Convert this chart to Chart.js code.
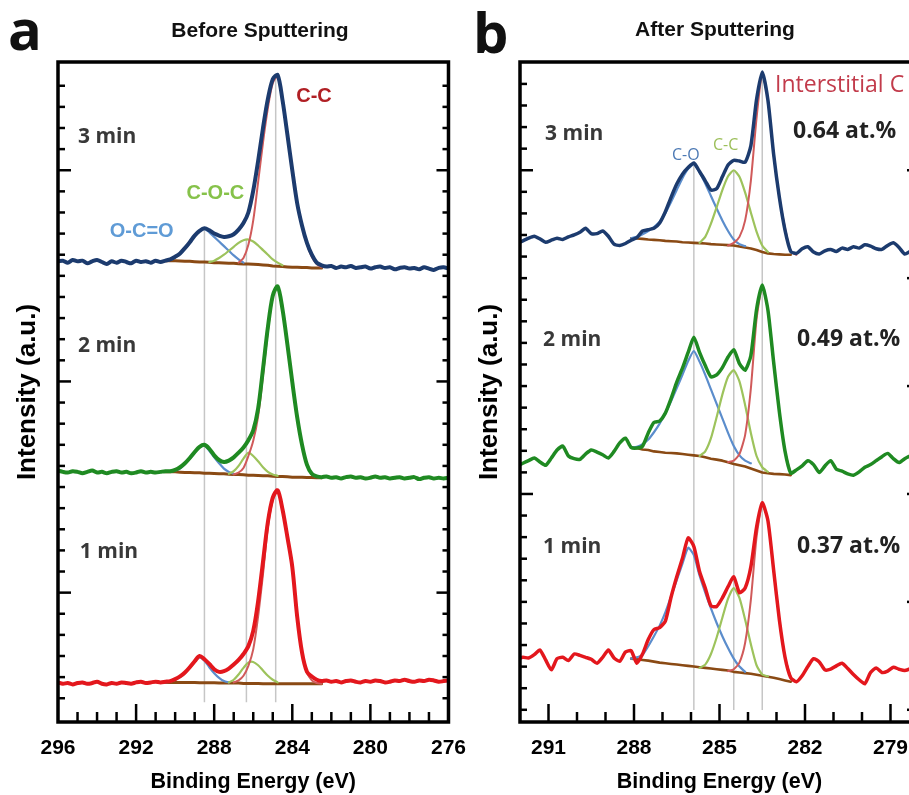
<!DOCTYPE html>
<html>
<head>
<meta charset="utf-8">
<script src="https://cdn.jsdelivr.net/npm/chart.js@4"></script>
<style>
  html, body { margin: 0; padding: 0; background: #fff; overflow: hidden; }
  #wrap { position: relative; width: 909px; height: 795px; overflow: hidden; }
  canvas { position: absolute; top: 0; }
  #before { left: 0; }
  #after { left: 462px; }
</style>
</head>
<body>
<div id="wrap">
  <canvas id="before" width="480" height="795"></canvas>
  <canvas id="after" width="480" height="795"></canvas>
</div>
<script>
const sampleGrid = (from, to, step) => {
  const n = Math.round((from - to) / step);
  return Array.from({ length: n + 1 }, (_, i) => +(from - i * step).toFixed(2));
};
const gap = n => Array(n).fill(null);

// ---- (a) before sputtering: C 1s, 296 -> 276 eV every 0.25 eV ----
const energyA = sampleGrid(296, 276, 0.25);
const before3min = [
  69.8, 69.9, 69.6, 70.0, 69.8, 69.9, 69.5, 69.8, 70.0, 69.7,
  69.4, 69.8, 69.6, 69.9, 69.7, 69.5, 69.9, 69.7, 69.8, 69.6,
  69.9, 69.7, 69.9, 70.1, 70.5, 71.0, 71.8, 72.7, 73.7, 74.4,
  74.8, 74.5, 74.0, 73.7, 73.5, 73.6, 73.9, 74.6, 75.6, 77.2,
  80.5, 85.0, 90.0, 94.4, 97.4, 98.0, 94.2, 89.0, 83.6, 78.6,
  75.2, 72.6, 70.8, 69.6, 69.2, 69.0, 69.1, 68.8, 69.0, 68.9,
  69.1, 68.8, 68.9, 69.0, 68.7, 68.9, 69.0, 68.8, 68.9, 68.6,
  68.8, 68.9, 68.7, 68.8, 68.6, 68.9, 68.7, 68.5, 68.8, 68.9, 68.7
];
const before2min = [
  38.1, 37.9, 37.8, 38.0, 37.9, 37.7, 37.9, 38.1, 37.8, 37.9,
  37.7, 37.9, 38.0, 37.8, 37.9, 37.7, 37.8, 38.0, 37.8, 37.9,
  37.8, 37.9, 38.0, 38.0, 38.2, 38.6, 39.2, 40.0, 40.9, 41.7,
  42.0, 41.4, 40.4, 39.7, 39.4, 39.6, 40.1, 40.8, 41.6, 42.7,
  44.2, 47.5, 53.5, 59.8, 64.6, 66.0, 62.5, 57.2, 51.5, 46.2,
  42.0, 39.0, 37.6, 37.2, 37.1, 37.2, 37.0, 37.1, 36.9, 37.1,
  37.2, 37.0, 37.1, 36.9, 37.0, 37.2, 37.0, 37.1, 36.9, 37.0,
  37.1, 36.9, 37.0, 37.1, 36.8, 37.0, 37.1, 36.9, 37.0, 36.9, 37.0
];
const before1min = [
  6.0, 5.8, 5.9, 5.7, 5.9, 6.0, 5.8, 5.9, 6.1, 5.8,
  5.7, 5.9, 5.8, 6.0, 5.9, 5.8, 6.0, 6.1, 5.9, 6.0,
  6.1, 6.0, 6.1, 6.2, 6.5, 6.9, 7.5, 8.3, 9.2, 10.0,
  9.5, 8.8, 8.0, 7.6, 7.7, 8.1, 8.7, 9.4, 10.3, 11.5,
  13.8, 18.3, 24.3, 30.3, 34.0, 35.1, 32.2, 28.0, 23.5, 16.0,
  10.5, 7.6, 6.9, 6.4, 6.2, 6.3, 6.1, 6.2, 6.0, 6.2,
  6.3, 6.1, 6.0, 6.2, 6.1, 6.3, 6.2, 6.0, 6.1, 6.3,
  6.2, 6.4, 6.2, 6.1, 6.3, 6.2, 6.4, 6.3, 6.1, 6.2, 6.3
];

// peak fits, 290.5 -> 282.5 eV
const fitEnergyA = sampleGrid(290.5, 282.5, 0.25);
const fitA3 = {
  bg:  [69.9, 69.9, 69.9, 69.85, 69.8, 69.8, 69.75, 69.7, 69.7, 69.65, 69.6, 69.6, 69.55, 69.5, 69.5, 69.45, 69.4,
        69.4, 69.35, 69.3, 69.25, 69.2, 69.1, 69.05, 69.0, 68.95, 68.9, 68.9, 68.85, 68.85, 68.8, 68.8, 68.8],
  oco: [69.9, 70.0, 70.4, 70.9, 71.7, 72.6, 73.6, 74.4, 74.7, 74.2, 73.5, 72.8, 72.1, 71.4, 70.7, 70.1, 69.6, ...gap(16)],
  coc: [...gap(9), 69.7, 69.9, 70.3, 70.8, 71.4, 72.0, 72.6, 73.0, 73.1, 72.8, 72.2, 71.5, 70.8, 70.1, 69.6, 69.2, ...gap(8)],
  cc:  [...gap(15), 69.6, 70.3, 72.3, 76.0, 81.8, 87.8, 93.0, 96.8, 97.8, 94.1, 88.9, 83.5, 78.5, 75.0, 72.4, 70.5, 69.4, 68.9]
};
const fitA2 = {
  bg:  [37.9, 37.9, 37.9, 37.85, 37.8, 37.8, 37.75, 37.75, 37.7, 37.7, 37.65, 37.6, 37.6, 37.55, 37.5, 37.5, 37.45,
        37.4, 37.4, 37.35, 37.3, 37.3, 37.25, 37.2, 37.2, 37.15, 37.1, 37.1, 37.1, 37.05, 37.05, 37.0, 37.0],
  oco: [37.9, 37.95, 38.1, 38.4, 39.1, 39.9, 40.8, 41.6, 41.9, 41.1, 40.1, 39.2, 38.4, 37.9, 37.6, ...gap(18)],
  coc: [...gap(13), 37.6, 38.0, 38.8, 39.9, 40.8, 40.3, 39.5, 38.6, 37.9, 37.5, 37.3, ...gap(9)],
  cc:  [...gap(14), 37.5, 37.8, 38.5, 40.3, 42.6, 46.3, 52.5, 59.2, 64.3, 65.9, 62.4, 57.1, 51.4, 46.1, 41.9, 38.9, 37.5, 37.1, 37.0]
};
const fitA1 = {
  bg:  [6.0, 6.0, 6.0, 6.0, 6.0, 6.0, 6.0, 5.95, 5.95, 5.95, 5.95, 5.9, 5.9, 5.9, 5.9, 5.9, 5.85,
        5.85, 5.85, 5.85, 5.8, 5.8, 5.8, 5.8, 5.8, 5.8, 5.8, 5.8, 5.8, 5.8, 5.8, 5.8, 5.8],
  oco: [6.0, 6.1, 6.4, 6.8, 7.4, 8.2, 9.1, 9.8, 9.3, 8.3, 7.4, 6.7, 6.2, 6.0, ...gap(19)],
  coc: [...gap(13), 6.0, 6.4, 7.2, 8.2, 9.0, 9.1, 8.6, 7.8, 7.0, 6.4, 6.0, ...gap(9)],
  cc:  [...gap(14), 6.0, 6.3, 7.0, 8.5, 11.0, 16.0, 22.4, 29.5, 33.6, 35.0, 32.1, 27.9, 23.4, 15.9, 10.4, 7.5, 6.3, 5.9, 5.8]
};
const guideEnergyA = [288.5, 286.35, 284.85];
const guideTopA = [74.7, 73.2, 98.0];
const guideBottomA = 3.0;
const tickLabelsA = [296, 292, 288, 284, 280, 276];

// ---- (b) after sputtering: C 1s, 292.1 -> 278.1 eV every 0.2 eV ----
const energyB = sampleGrid(292.1, 278.1, 0.2);
const after3min = [
  72.5, 72.9, 73.3, 73.6, 73.2, 72.7, 73.0, 73.3, 73.1, 73.5,
  73.8, 74.2, 74.8, 74.0, 74.0, 74.4, 73.6, 72.4, 72.2, 72.5,
  73.0, 73.4, 74.4, 74.6, 74.8, 75.6, 77.3, 79.5, 81.5, 83.0,
  84.0, 84.7, 83.4, 82.0, 80.6, 80.8, 82.6, 84.4, 85.1, 85.0,
  84.8, 87.3, 94.3, 98.5, 94.2, 86.0, 79.5, 74.5, 71.3, 71.0,
  71.7, 72.0, 71.2, 70.9, 71.4, 71.6, 71.3, 71.8, 71.6, 72.0,
  71.8, 72.3, 72.1, 71.7, 71.6, 72.2, 72.6, 71.9, 70.9, 71.3, 71.6
];
const after2min = [
  38.8, 39.2, 39.6, 40.0, 39.4, 38.9, 40.0, 41.2, 41.8, 40.3,
  39.9, 39.8, 40.6, 41.2, 40.9, 40.5, 40.0, 41.0, 42.3, 43.0,
  41.6, 41.5, 41.8, 43.8, 45.4, 45.6, 46.8, 49.0, 51.5, 53.6,
  56.0, 58.3, 56.0, 54.0, 52.3, 52.6, 53.7, 55.3, 56.4, 54.3,
  53.3, 55.5, 62.5, 66.2, 62.4, 54.5, 47.0, 41.0, 37.7, 38.2,
  38.8, 39.6, 39.0, 37.8, 38.8, 39.6, 38.3, 38.0, 37.6, 37.4,
  37.9, 38.6, 39.0, 39.6, 40.2, 40.7, 39.9, 39.3, 39.9, 40.3, 40.0
];
const after1min = [
  9.5, 9.8, 9.7, 10.2, 10.9, 9.4, 7.9, 9.6, 9.8, 9.3,
  10.3, 10.1, 9.8, 9.5, 8.9, 9.8, 10.9, 9.7, 9.2, 10.6,
  10.8, 8.9, 10.3, 12.5, 14.0, 14.3, 15.3, 18.9, 22.0, 24.8,
  27.9, 26.6, 22.8, 20.3, 17.6, 17.5, 18.8, 20.5, 22.0, 19.6,
  20.3, 23.5, 29.5, 33.2, 30.5, 23.0, 15.5, 9.8, 6.7, 6.1,
  7.0, 8.4, 9.6, 9.1, 7.9, 8.0, 8.5, 8.9, 8.1, 7.2,
  6.4, 5.8, 7.5, 8.2, 7.5, 7.7, 8.3, 8.0, 7.8, 8.1, 8.6
];

// peak fits, 288.1 -> 282.3 eV
const fitEnergyB = sampleGrid(288.1, 282.3, 0.2);
const fitB3 = {
  bg: [73.3, 73.25, 73.2, 73.1, 73.05, 73.0, 72.9, 72.85, 72.8, 72.7, 72.65, 72.6, 72.55, 72.5, 72.4,
       72.35, 72.3, 72.25, 72.2, 72.05, 71.9, 71.75, 71.5, 71.2, 71.0, 70.9, 70.85, 70.8, 70.8, null],
  co: [73.3, 73.5, 73.9, 74.4, 75.0, 75.8, 77.1, 78.8, 80.6, 82.4, 83.8, 84.5, 83.3, 81.6, 79.7, 77.8, 76.0, 74.4, 73.1, 72.4, 72.1, ...gap(9)],
  cc: [...gap(12), 72.6, 73.5, 75.5, 78.0, 80.6, 82.7, 83.6, 82.6, 80.2, 77.2, 74.3, 72.2, 71.2, ...gap(5)],
  ci: [...gap(17), 72.2, 72.6, 73.5, 76.0, 82.0, 91.5, 98.3, 94.2, 86.0, 79.5, 74.8, 71.3, 70.8]
};
const fitB2 = {
  bg: [41.6, 41.5, 41.3, 41.2, 41.0, 40.9, 40.8, 40.75, 40.7, 40.6, 40.5, 40.4, 40.3, 40.1, 39.9,
       39.75, 39.6, 39.35, 39.1, 38.9, 38.7, 38.4, 38.1, 37.8, 37.7, 37.6, 37.55, 37.5, 37.4, null],
  co: [41.6, 41.7, 42.1, 42.8, 43.9, 45.2, 46.8, 48.6, 50.6, 52.6, 54.7, 56.2, 54.6, 52.6, 50.4, 48.2, 46.0, 43.8, 41.8, 40.4, 39.6, 39.2, ...gap(8)],
  cc: [...gap(12), 40.3, 41.0, 43.0, 46.2, 49.6, 52.3, 53.3, 51.6, 48.0, 43.8, 40.3, 38.6, 37.9, ...gap(5)],
  ci: [...gap(17), 39.4, 39.6, 40.6, 43.5, 50.5, 61.0, 66.0, 62.4, 54.5, 47.0, 41.0, 37.6, null]
};
const fitB1 = {
  bg: [9.6, 9.5, 9.4, 9.3, 9.15, 9.0, 8.9, 8.8, 8.7, 8.6, 8.5, 8.4, 8.3, 8.2, 8.1,
       8.0, 7.9, 7.8, 7.6, 7.5, 7.4, 7.3, 7.15, 7.0, 6.85, 6.7, 6.5, 6.3, 6.1, null],
  co: [9.6, 9.8, 10.2, 11.5, 13.0, 14.6, 16.6, 19.0, 21.5, 24.0, 26.4, 25.3, 22.2, 19.6, 17.2, 15.0, 13.0, 11.2, 9.6, 8.4, 7.6, ...gap(9)],
  cc: [...gap(12), 8.2, 8.7, 10.3, 12.8, 15.8, 18.7, 20.3, 18.8, 15.5, 11.8, 8.6, 7.2, 6.9, ...gap(5)],
  ci: [...gap(17), 7.7, 8.0, 9.0, 12.0, 18.5, 28.0, 33.0, 30.5, 23.0, 15.5, 9.8, 6.7, null]
};
const guideEnergyB = [285.9, 284.5, 283.5];
const guideTopB = [84.5, 83.6, 98.5];
const guideBottomB = 1.8;
const tickLabelsB = [291, 288, 285, 282, 279];

const COLORS = {
  navy: '#1c3b6e', green: '#1f8a22', red: '#e3171d',
  fitBlue: '#5b8dcc', fitGreen: '#9dc35c', fitRed: '#d05a5a',
  background: '#8a4a14', guide: '#c6c6c6'
};
const ARIAL = '"Liberation Sans", Arial, sans-serif';
const OPEN = '"Open Sans", sans-serif';

const toPoints = (energies, values) =>
  energies.map((x, i) => ({ x, y: values[i] })).filter(p => p.y !== null);

function line(energies, values, color, width, tension) {
  return {
    data: toPoints(energies, values),
    borderColor: color, borderWidth: width, pointRadius: 0,
    tension, fill: false, borderJoinStyle: 'round', borderCapStyle: 'round'
  };
}

function guides(energies, tops, bottom) {
  return energies.map((e, i) => ({
    data: [{ x: e, y: tops[i] }, { x: e, y: bottom }],
    borderColor: COLORS.guide, borderWidth: 1.5, pointRadius: 0
  }));
}

// frame, inward tick marks and text labels
const panelDecor = {
  id: 'panelDecor',
  afterDraw(chart, args, o) {
    const { ctx, chartArea: a, scales: { x, y } } = chart;
    ctx.save();
    ctx.strokeStyle = '#000';
    ctx.lineWidth = 2.5;
    for (let e = Math.ceil(x.min) + 1; e < x.max; e++) {
      const px = x.getPixelForValue(e);
      const len = o.xMajor.includes(e) ? 18 : 10;
      ctx.beginPath(); ctx.moveTo(px, a.bottom); ctx.lineTo(px, a.bottom - len); ctx.stroke();
    }
    for (let k = -40; k <= 40; k++) {
      const v = o.yAnchor + k * o.yStep;
      if (v < 1.5 || v > 98.5) continue;
      const py = y.getPixelForValue(v);
      const major = k % o.yMajorEvery === 0;
      ctx.beginPath(); ctx.moveTo(a.left, py); ctx.lineTo(a.left + (major ? 13 : 7), py); ctx.stroke();
      if (k % o.rightEvery === 0) {
        const rMajor = o.rightEvery > 1 || major;
        ctx.beginPath(); ctx.moveTo(a.right, py); ctx.lineTo(a.right - (rMajor ? 12 : 6), py); ctx.stroke();
      }
    }
    ctx.lineWidth = 3.5;
    ctx.strokeRect(a.left, a.top, a.right - a.left, a.bottom - a.top);

    ctx.textBaseline = 'alphabetic';
    for (const t of o.notes) {
      ctx.font = t.font; ctx.fillStyle = t.color; ctx.textAlign = 'left';
      ctx.fillText(t.text, x.getPixelForValue(t.e), y.getPixelForValue(t.v));
    }
    for (const t of o.captions) {
      ctx.font = t.font; ctx.fillStyle = '#111'; ctx.textAlign = t.align || 'left';
      ctx.fillText(t.text, t.x, t.y);
    }
    ctx.restore();
  }
};

function drawPanel(id, p) {
  new Chart(document.getElementById(id), {
    type: 'line',
    data: { datasets: p.datasets },
    options: {
      responsive: false, animation: false, devicePixelRatio: 1, events: [],
      layout: { padding: { top: 62, right: p.padRight, left: 0, bottom: 0 } },
      plugins: { legend: { display: false }, tooltip: { enabled: false }, panelDecor: p.decor },
      scales: {
        x: {
          type: 'linear', min: p.xMin, max: p.xMax, reverse: true,
          afterBuildTicks: s => { s.ticks = p.xTicks.map(v => ({ value: v })); },
          afterFit: s => { s.height = 73; },
          grid: { display: false, drawTicks: false }, border: { display: false },
          ticks: { color: '#000', padding: 14, maxRotation: 0, autoSkip: false,
                   font: { family: ARIAL, weight: 'bold', size: 21 } },
          title: { display: true, text: 'Binding Energy (eV)', color: '#000',
                   font: { family: ARIAL, weight: 'bold', size: 21.5 }, padding: { top: 0, bottom: 0 } }
        },
        y: {
          min: 0, max: 100,
          afterFit: s => { s.width = 58; },
          grid: { display: false, drawTicks: false }, border: { display: false },
          ticks: { display: false },
          title: { display: true, text: 'Intensity (a.u.)', color: '#000',
                   font: { family: ARIAL, weight: 'bold', size: 26 }, padding: { top: 12, bottom: 0 } }
        }
      }
    },
    plugins: [panelDecor]
  });
}

const sumA = [[before3min, COLORS.navy], [before2min, COLORS.green], [before1min, COLORS.red]];
const fitsA = [fitA3, fitA2, fitA1];
drawPanel('before', {
  xMin: 276, xMax: 296, xTicks: tickLabelsA, padRight: 30,
  datasets: [
    ...sumA.map(([v, c]) => line(energyA, v, c, 4, 0.3)),
    ...fitsA.map(f => line(fitEnergyA, f.cc, COLORS.fitRed, 2, 0.3)),
    ...fitsA.map(f => line(fitEnergyA, f.coc, COLORS.fitGreen, 2.2, 0.3)),
    ...fitsA.map(f => line(fitEnergyA, f.oco, COLORS.fitBlue, 2.2, 0.3)),
    ...fitsA.map(f => line(fitEnergyA, f.bg, COLORS.background, 3, 0)),
    ...guides(guideEnergyA, guideTopA, guideBottomA)
  ],
  decor: {
    xMajor: tickLabelsA, yAnchor: 83.6, yStep: 3.2, yMajorEvery: 10, rightEvery: 1,
    notes: [
      { text: '3 min', e: 294.98, v: 87.7, font: `bold 21px ${OPEN}`, color: '#383838' },
      { text: '2 min', e: 294.98, v: 56.1, font: `bold 21px ${OPEN}`, color: '#383838' },
      { text: '1 min', e: 294.88, v: 24.8, font: `bold 21px ${OPEN}`, color: '#383838' },
      { text: 'C-C', e: 283.8, v: 93.9, font: `bold 20px ${ARIAL}`, color: '#b01f24' },
      { text: 'C-O-C', e: 289.42, v: 79.2, font: `bold 20px ${ARIAL}`, color: '#86c24a' },
      { text: 'O-C=O', e: 293.35, v: 73.5, font: `bold 20px ${ARIAL}`, color: '#5f9bd6' }
    ],
    captions: [
      { text: 'a', x: 8, y: 50, font: `bold 56px ${OPEN}` },
      { text: 'Before Sputtering', x: 260, y: 37, align: 'center', font: `bold 21px ${ARIAL}` }
    ]
  }
});

const sumB = [[after3min, COLORS.navy], [after2min, COLORS.green], [after1min, COLORS.red]];
const fitsB = [fitB3, fitB2, fitB1];
drawPanel('after', {
  xMin: 278, xMax: 292, xTicks: tickLabelsB, padRight: 23,
  datasets: [
    ...sumB.map(([v, c]) => line(energyB, v, c, 3.5, 0.2)),
    ...fitsB.map(f => line(fitEnergyB, f.ci, COLORS.fitRed, 2, 0.2)),
    ...fitsB.map(f => line(fitEnergyB, f.cc, COLORS.fitGreen, 2.2, 0.2)),
    ...fitsB.map(f => line(fitEnergyB, f.co, COLORS.fitBlue, 2.2, 0.2)),
    ...fitsB.map(f => line(fitEnergyB, f.bg, COLORS.background, 2.6, 0)),
    ...guides(guideEnergyB, guideTopB, guideBottomB)
  ],
  decor: {
    xMajor: tickLabelsB, yAnchor: 83.6, yStep: 3.27, yMajorEvery: 15, rightEvery: 5,
    notes: [
      { text: '3 min', e: 291.12, v: 88.2, font: `bold 21px ${OPEN}`, color: '#383838' },
      { text: '2 min', e: 291.19, v: 57.0, font: `bold 21px ${OPEN}`, color: '#383838' },
      { text: '1 min', e: 291.19, v: 25.6, font: `bold 21px ${OPEN}`, color: '#383838' },
      { text: '0.64 at.%', e: 282.42, v: 88.5, font: `bold 23px ${OPEN}`, color: '#222' },
      { text: '0.49 at.%', e: 282.28, v: 57.0, font: `bold 23px ${OPEN}`, color: '#222' },
      { text: '0.37 at.%', e: 282.28, v: 25.6, font: `bold 23px ${OPEN}`, color: '#222' },
      { text: 'Interstitial C', e: 283.05, v: 95.5, font: `23px ${OPEN}`, color: '#c23b4b' },
      { text: 'C-O', e: 286.67, v: 85.2, font: `16px ${OPEN}`, color: '#4c79b4' },
      { text: 'C-C', e: 285.23, v: 86.7, font: `16px ${OPEN}`, color: '#9cbf5a' }
    ],
    captions: [
      { text: 'b', x: 11, y: 53, font: `bold 56px ${OPEN}` },
      { text: 'After Sputtering', x: 253, y: 36, align: 'center', font: `bold 21px ${ARIAL}` }
    ]
  }
});
</script>
</body>
</html>
